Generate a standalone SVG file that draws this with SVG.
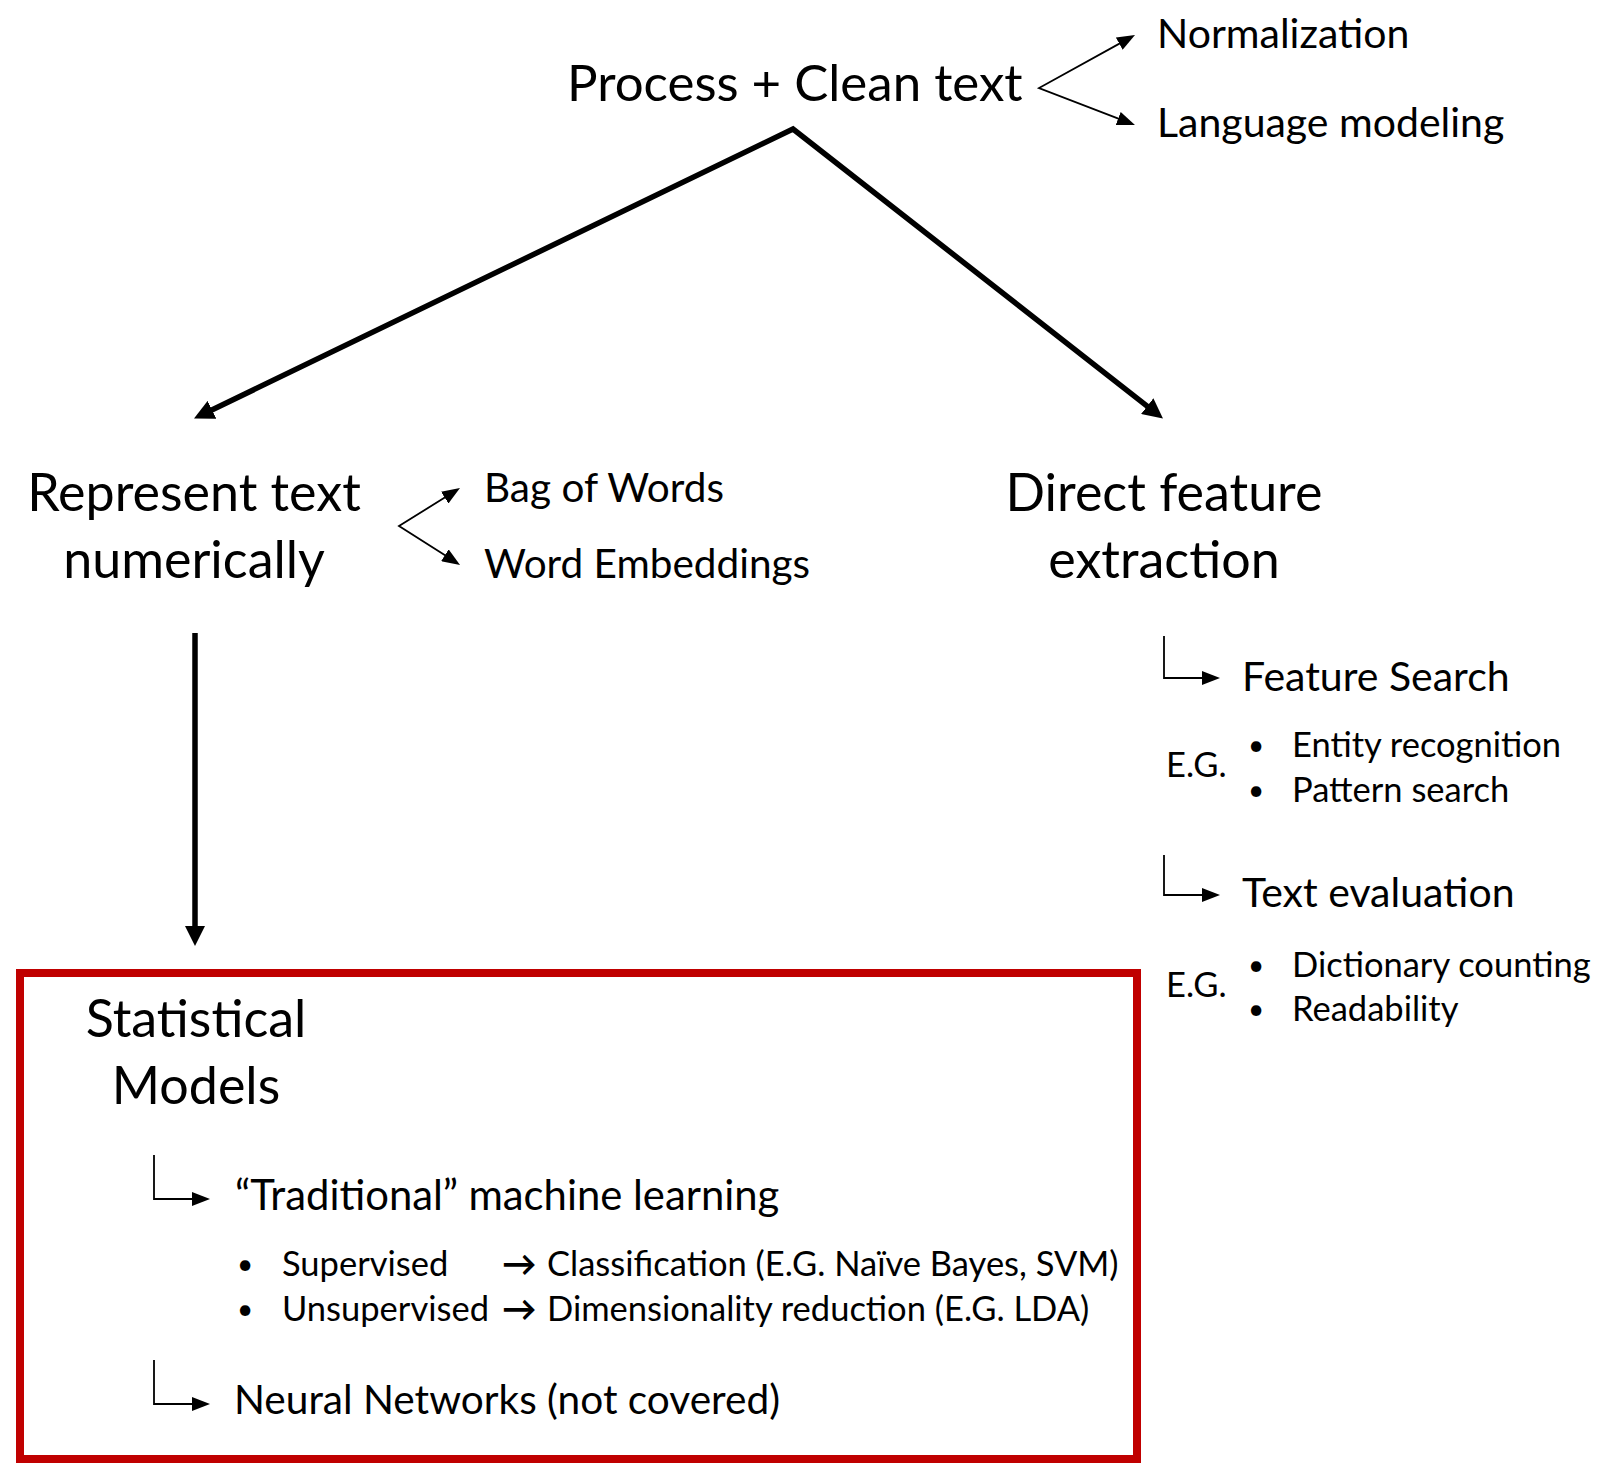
<svg xmlns="http://www.w3.org/2000/svg" width="1598" height="1480" viewBox="0 0 1598 1480">
<style>
  text { font-family: Lato, "Open Sans", "Liberation Sans", sans-serif; fill: #000; }
  .title { font-size: 51px; }
  .big { font-size: 52px; }
  .med { font-size: 41px; }
  .sm { font-size: 34.5px; }
  .dot { font-size: 28px; text-anchor: middle; }
  .arr { font-size: 34.5px; font-weight: bold; }
  .mid { text-anchor: middle; }
  .thick { stroke: #000; stroke-width: 5.5; fill: none; stroke-linejoin: miter; }
  .thin { stroke: #000; stroke-width: 1.8; fill: none; }
  .frame { stroke: #C00000; stroke-width: 8; fill: none; }
</style>
<defs>
  <marker id="bigHead" viewBox="0 0 20 20" refX="10" refY="10" markerWidth="20" markerHeight="20" markerUnits="userSpaceOnUse" orient="auto-start-reverse">
    <path d="M0,0 L20,10 L0,20 z" fill="#000"/>
  </marker>
  <marker id="smallHead" viewBox="0 0 18 14" refX="10" refY="7" markerWidth="18" markerHeight="14" markerUnits="userSpaceOnUse" orient="auto-start-reverse">
    <path d="M0,0 L18,7 L0,14 z" fill="#000"/>
  </marker>
</defs>
<rect width="1598" height="1480" fill="#fff"/>

<g id="connectors">
  <path class="thick" d="M203,414.2 L793,129 L1155.1,412.3" marker-start="url(#bigHead)" marker-end="url(#bigHead)"/>
  <path class="thick" d="M195,633 L195,936" marker-end="url(#bigHead)"/>
  <path class="thin" d="M1128,38.9 L1039,88 L1127.5,122.1" marker-start="url(#smallHead)" marker-end="url(#smallHead)"/>
  <path class="thin" d="M453.2,492.3 L399,526 L453.3,560.6" marker-start="url(#smallHead)" marker-end="url(#smallHead)"/>
  <path class="thin" d="M1164,636 V678 H1212" marker-end="url(#smallHead)"/>
  <path class="thin" d="M1164,855 V895 H1212" marker-end="url(#smallHead)"/>
  <path class="thin" d="M154,1155 V1199 H202" marker-end="url(#smallHead)"/>
  <path class="thin" d="M154,1360 V1404 H202" marker-end="url(#smallHead)"/>
</g>

<g id="process">
  <text class="title" x="567" y="101">Process + Clean text</text>
</g>
<g id="normalization">
  <text class="med" x="1157" y="48">Normalization</text>
</g>
<g id="language-modeling">
  <text class="med" x="1157" y="137">Language modeling</text>
</g>
<g id="represent">
  <text class="big mid" x="194" y="511">Represent text</text>
  <text class="big mid" x="194" y="578">numerically</text>
</g>
<g id="bag-of-words">
  <text class="med" x="484" y="502" style="font-size:40.5px">Bag of Words</text>
</g>
<g id="word-embeddings">
  <text class="med" x="484" y="578" style="font-size:40.5px">Word Embeddings</text>
</g>
<g id="direct">
  <text class="big mid" x="1164" y="511">Direct feature</text>
  <text class="big mid" x="1164" y="578">extraction</text>
</g>
<g id="feature-search">
  <text class="med" x="1242" y="691">Feature Search</text>
  <text class="sm" x="1166" y="777">E.G.</text>
  <text class="dot" x="1256" y="755">•</text>
  <text class="sm" x="1292" y="757">Entity recognition</text>
  <text class="dot" x="1256" y="800">•</text>
  <text class="sm" x="1292" y="802">Pattern search</text>
</g>
<g id="text-evaluation">
  <text class="med" x="1242" y="907">Text evaluation</text>
  <text class="sm" x="1166" y="997">E.G.</text>
  <text class="dot" x="1256" y="975">•</text>
  <text class="sm" x="1292" y="977">Dictionary counting</text>
  <text class="dot" x="1256" y="1019">•</text>
  <text class="sm" x="1292" y="1021">Readability</text>
</g>
<g id="statistical-models">
  <rect class="frame" x="20" y="973" width="1117" height="486"/>
  <text class="big mid" x="196" y="1037">Statistical</text>
  <text class="big mid" x="196" y="1104">Models</text>
</g>
<g id="traditional-ml">
  <text class="med" x="235" y="1210" style="font-size:41.8px">“Traditional” machine learning</text>
  <text class="dot" x="245" y="1274">•</text>
  <text class="sm" x="282" y="1276">Supervised</text>
  <text class="arr" x="502" y="1276">→</text>
  <text class="sm" x="547" y="1276">Classification (E.G. Naïve Bayes, SVM)</text>
  <text class="dot" x="245" y="1319">•</text>
  <text class="sm" x="282" y="1321">Unsupervised</text>
  <text class="arr" x="502" y="1321">→</text>
  <text class="sm" x="547" y="1321">Dimensionality reduction (E.G. LDA)</text>
</g>
<g id="neural-networks">
  <text class="med" x="234" y="1414" style="font-size:40.6px">Neural Networks (not covered)</text>
</g>
</svg>
